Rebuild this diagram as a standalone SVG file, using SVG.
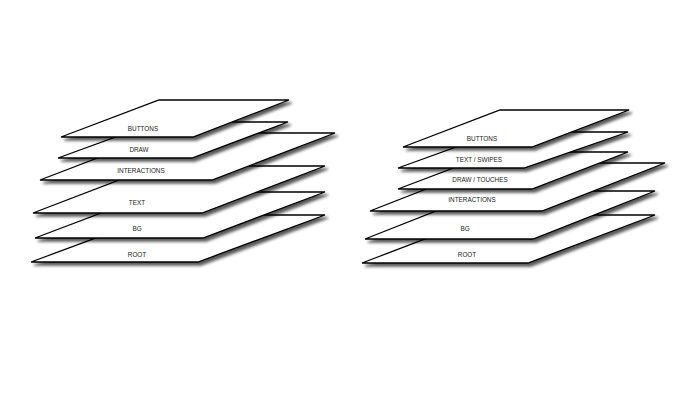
<svg xmlns="http://www.w3.org/2000/svg" width="700" height="400" viewBox="0 0 700 400">
<defs>
<filter id="sh" x="-20%" y="-30%" width="140%" height="170%">
<feDropShadow dx="3" dy="3" stdDeviation="1.8" flood-color="#000" flood-opacity="0.65"/>
</filter>
<style>
.p{fill:#fff;stroke:#000;stroke-width:1.3;stroke-linejoin:miter;filter:url(#sh)}
.t{font-family:"Liberation Sans",Arial,sans-serif;font-size:7.5px;fill:#1a1a1a;text-anchor:middle}
</style>
</defs>
<rect width="700" height="400" fill="#fff"/>
<g id="left-stack">
<g id="l-root"><polygon class="p" points="158,215 325,215 198,262 31,262"/><text class="t" transform="translate(137,257) scale(0.85,1)">ROOT</text></g>
<g id="l-bg"><polygon class="p" points="157,192 325,192 203,238 35,238"/><text class="t" transform="translate(137,231) scale(0.85,1)">BG</text></g>
<g id="l-text"><polygon class="p" points="156,166 325,166 202,213 33,213"/><text class="t" transform="translate(137,205) scale(0.85,1)">TEXT</text></g>
<g id="l-interactions"><polygon class="p" points="163,133 335,133 212,180 40,180"/><text class="t" transform="translate(141,172.7) scale(0.85,1)">INTERACTIONS</text></g>
<g id="l-draw"><polygon class="p" points="157,122 288,122 192,158 58,158"/><text class="t" transform="translate(139,152) scale(0.85,1)">DRAW</text></g>
<g id="l-buttons"><polygon class="p" points="159,100 289,100 193,137 61,137"/><text class="t" transform="translate(143,131) scale(0.85,1)">BUTTONS</text></g>
</g>
<g id="right-stack">
<g id="r-root"><polygon class="p" points="488,215 655,215 528,263 362,263"/><text class="t" transform="translate(467,257) scale(0.85,1)">ROOT</text></g>
<g id="r-bg"><polygon class="p" points="487,191 655,191 533,239 365,239"/><text class="t" transform="translate(465,231) scale(0.85,1)">BG</text></g>
<g id="r-interactions"><polygon class="p" points="493,163 665,163 542,211 370,211"/><text class="t" transform="translate(472,202) scale(0.85,1)">INTERACTIONS</text></g>
<g id="r-draw"><polygon class="p" points="496,152 628,152 532,189 398,189"/><text class="t" transform="translate(480,182.3) scale(0.85,1)">DRAW / TOUCHES</text></g>
<g id="r-textswipes"><polygon class="p" points="498,132 628,132 524,168 398,168"/><text class="t" transform="translate(479,161.7) scale(0.85,1)">TEXT / SWIPES</text></g>
<g id="r-buttons"><polygon class="p" points="500,110 629,110 532,147 403,147"/><text class="t" transform="translate(482,141) scale(0.85,1)">BUTTONS</text></g>
</g>
<g id="connectors"/>
</svg>
